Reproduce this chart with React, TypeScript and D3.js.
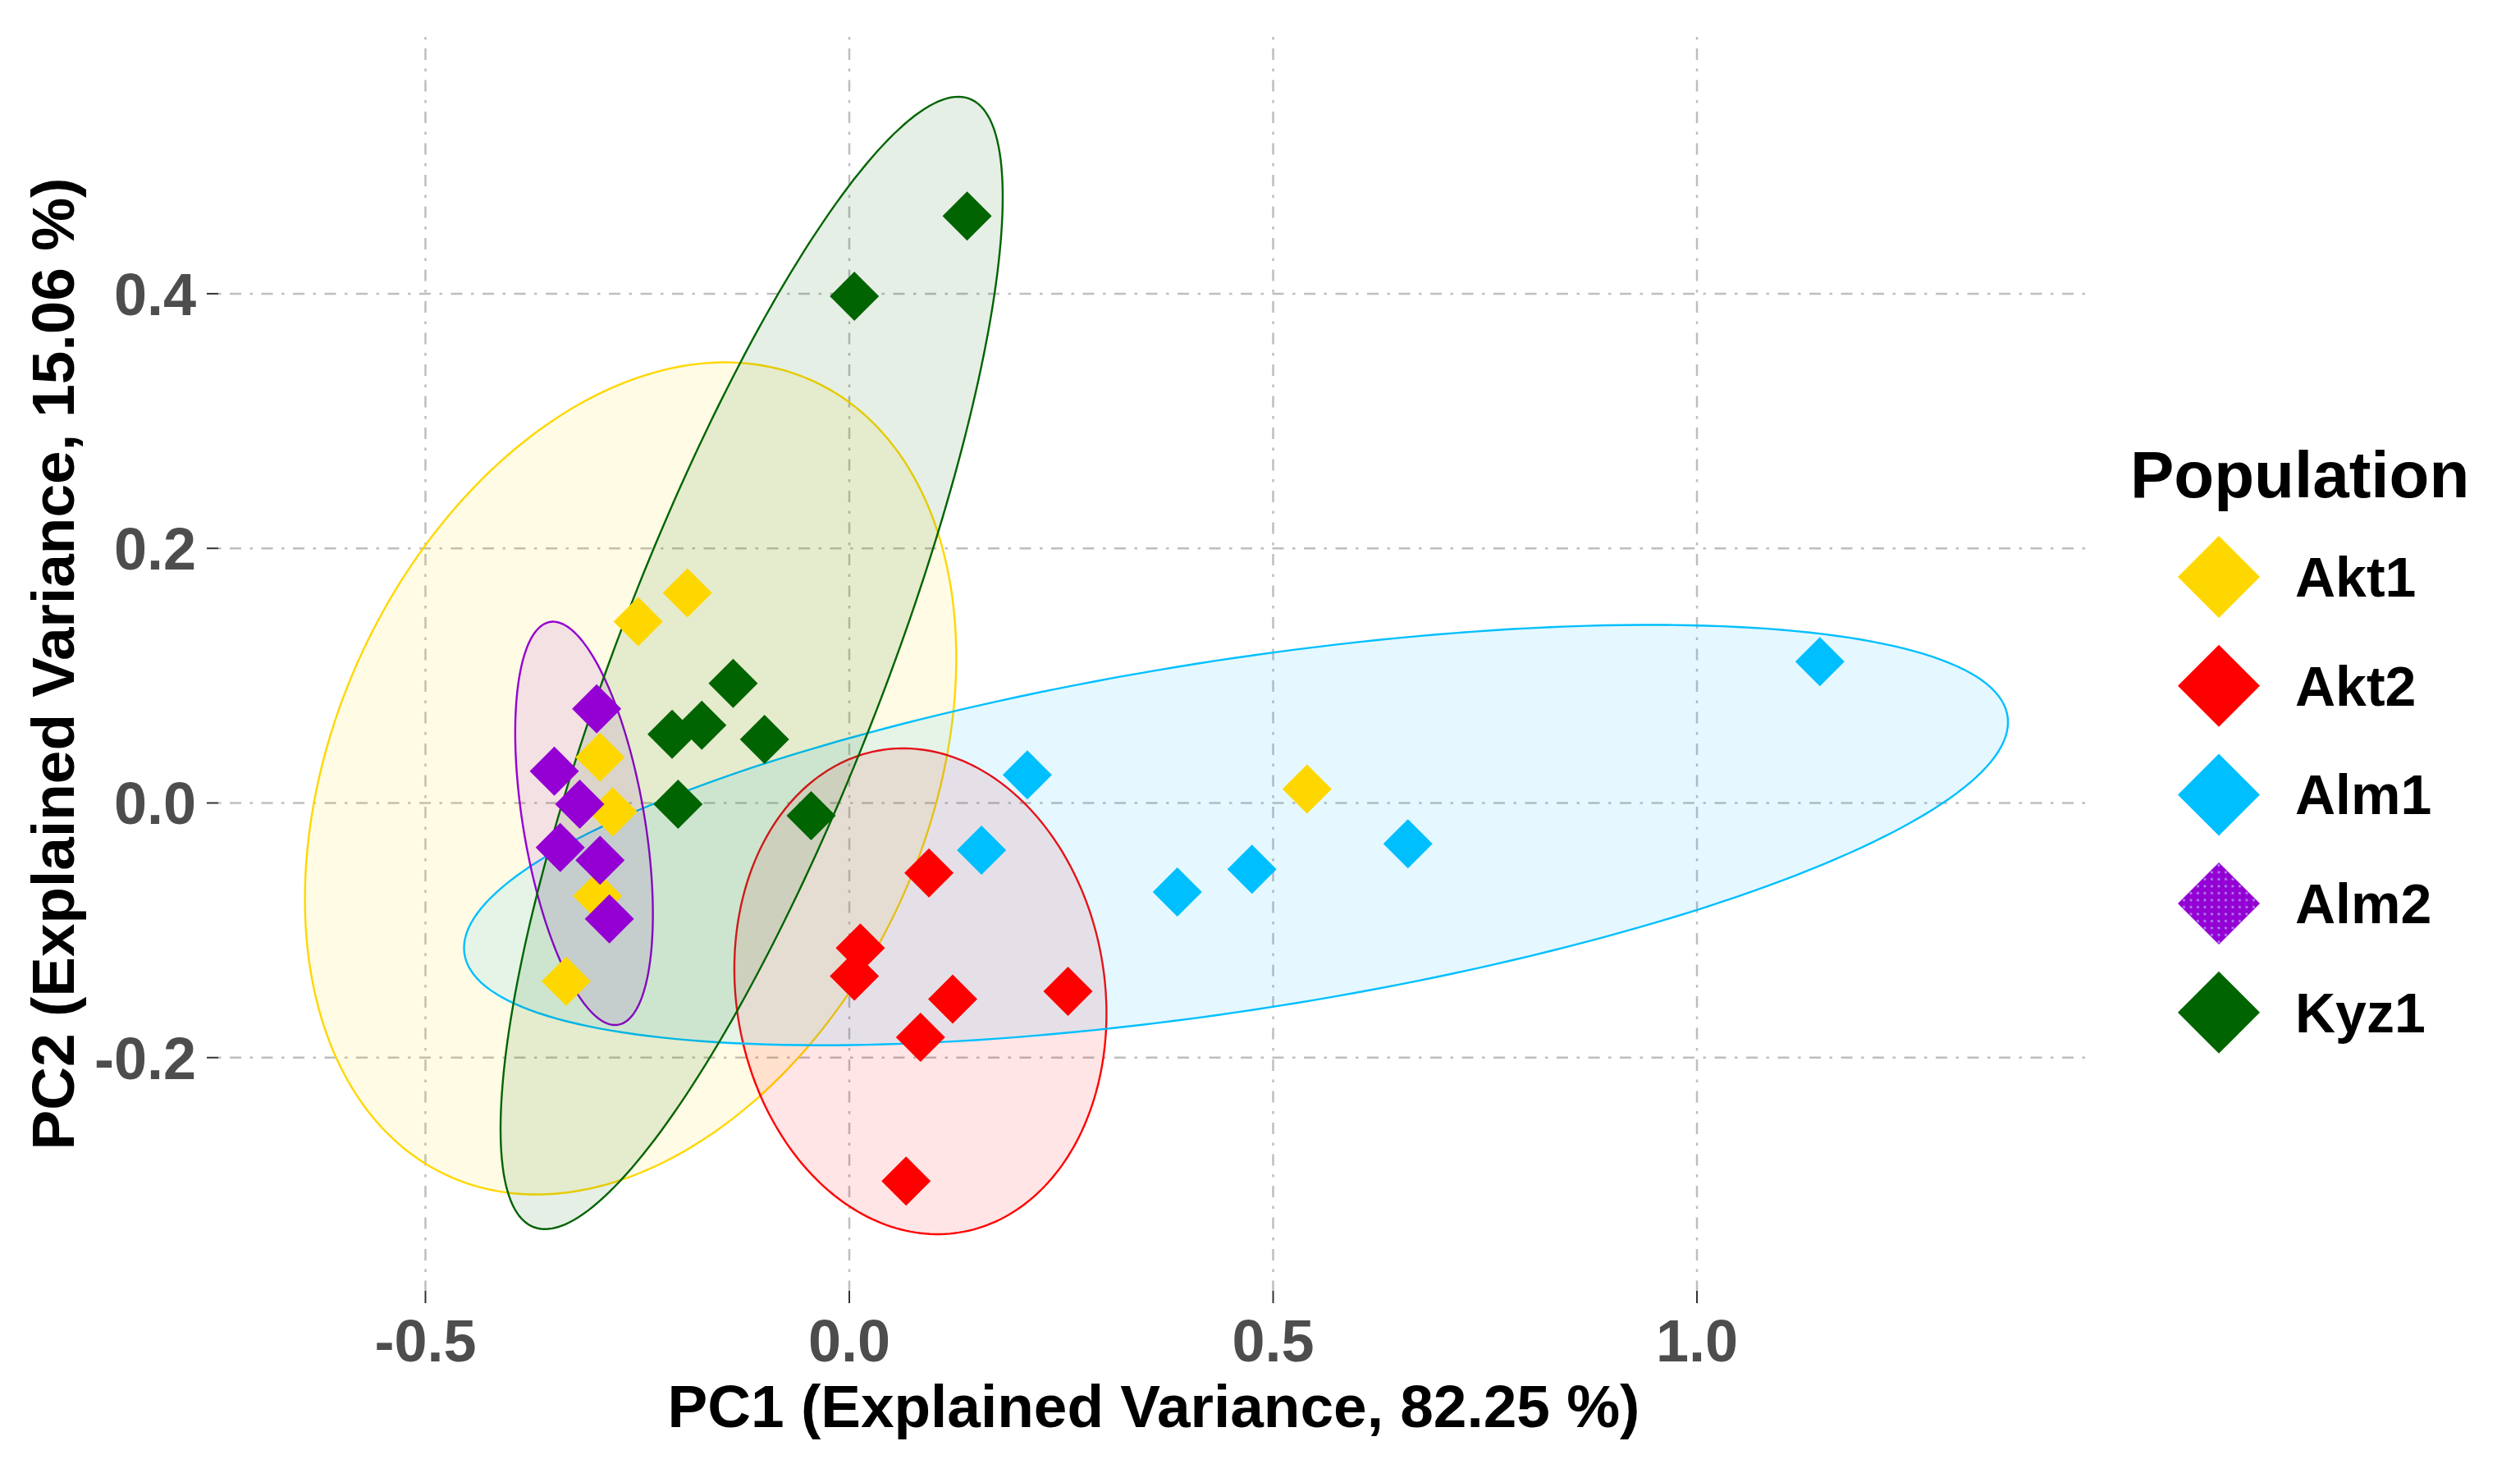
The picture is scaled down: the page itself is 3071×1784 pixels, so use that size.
import React from 'react';
import * as d3 from 'd3';

type Pt = [number, number];
type Ellipse = { cx: number; cy: number; hw: number; hh: number; r: number };

const populations = ['Akt1', 'Akt2', 'Alm1', 'Alm2', 'Kyz1'];
const popColors = ['#FFD700', '#FF0000', '#00BFFF', '#9400D3', '#006400'];

// PC1 / PC2 scores
const akt1: Pt[] = [
  [-0.191, 0.165], [-0.249, 0.1425], [-0.294, 0.036], [-0.279, -0.007],
  [-0.297, -0.073], [-0.334, -0.14], [0.54, 0.011],
];
const akt2: Pt[] = [
  [0.094, -0.055], [0.013, -0.114], [0.006, -0.136], [0.122, -0.154],
  [0.258, -0.148], [0.084, -0.184], [0.067, -0.297],
];
const alm1: Pt[] = [
  [0.21, 0.022], [0.156, -0.037], [0.387, -0.07], [0.475, -0.052],
  [0.659, -0.032], [1.145, 0.111],
];
const alm2: Pt[] = [
  [-0.298, 0.074], [-0.348, 0.025], [-0.318, -0.001], [-0.341, -0.035],
  [-0.294, -0.045], [-0.283, -0.091],
];
const kyz1: Pt[] = [
  [0.139, 0.461], [0.006, 0.398], [-0.137, 0.094], [-0.209, 0.054],
  [-0.174, 0.061], [-0.1, 0.05], [-0.202, -0.001], [-0.045, -0.01],
];
const groups = [akt1, akt2, alm1, alm2, kyz1];

// confidence ellipses: centre, half width, half height, correlation (data units)
const ellAkt1: Ellipse = { cx: -0.258, cy: 0.0193, hw: 0.3842, hh: 0.3268, r: 0.29 };
const ellAkt2: Ellipse = { cx: 0.0839, cy: -0.1479, hw: 0.2195, hh: 0.1908, r: -0.092 };
const ellAlm1: Ellipse = { cx: 0.4562, cy: -0.0252, hw: 0.9107, hh: 0.1651, r: 0.537 };
const ellAlm2: Ellipse = { cx: -0.3129, cy: -0.016, hw: 0.0812, hh: 0.1584, r: -0.45 };
const ellKyz1: Ellipse = { cx: -0.1152, cy: 0.11, hw: 0.2962, hh: 0.4447, r: 0.823 };
const ellipses = [ellAkt1, ellAkt2, ellAlm1, ellAlm2, ellKyz1];

const xTicks = [-0.5, 0, 0.5, 1.0];
const xTickLabels = ['-0.5', '0.0', '0.5', '1.0'];
const yTicks = [-0.2, 0, 0.2, 0.4];
const yTickLabels = ['-0.2', '0.0', '0.2', '0.4'];
const xDomain = [-0.7444, 1.4627];
const yDomain = [-0.3832, 0.6017];

const W = 3071;
const H = 1784;
const panel = { left: 266, right: 2546, top: 45, bottom: 1573 };
const font = '"Liberation Sans", Arial, sans-serif';

const App: React.FC = () => {
  const x = d3.scaleLinear().domain(xDomain).range([panel.left, panel.right]);
  const y = d3.scaleLinear().domain(yDomain).range([panel.bottom, panel.top]);

  const line = d3.line<Pt>().curve(d3.curveLinearClosed);
  const ellipsePath = (e: Ellipse) => {
    const n = 240;
    const s = Math.sqrt(1 - e.r * e.r);
    const pts: Pt[] = d3.range(n).map((i) => {
      const t = (i / n) * 2 * Math.PI;
      const px = e.cx + e.hw * Math.cos(t);
      const py = e.cy + e.hh * (e.r * Math.cos(t) + s * Math.sin(t));
      return [x(px), y(py)];
    });
    return line(pts) || '';
  };

  const diamond = d3.symbol().type(d3.symbolSquare).size(1800)() || '';
  const legendDiamond = d3.symbol().type(d3.symbolSquare).size(5000)() || '';
  const gridDash = '3.5 10.5 14 10.5';

  return (
    <svg width={W} height={H} style={{ position: 'absolute', left: 0, top: 0, background: '#fff' }}>
      <defs>
        <pattern id="alm2dots" width="12" height="12" patternUnits="userSpaceOnUse">
          <rect width="12" height="12" fill="#9400D3" />
          <circle cx="3" cy="3" r="1.6" fill="#B08CF0" />
          <circle cx="9" cy="9" r="1.6" fill="#B08CF0" />
        </pattern>
      </defs>
      <rect width={W} height={H} fill="#fff" />

      {/* grid */}
      <g stroke="#BEBEBE" strokeWidth={2.5} strokeDasharray={gridDash}>
        {yTicks.map((t) => (
          <line key={'gy' + t} x1={panel.left} x2={panel.right} y1={y(t)} y2={y(t)} />
        ))}
        {xTicks.map((t) => (
          <line key={'gx' + t} x1={x(t)} x2={x(t)} y1={panel.top} y2={panel.bottom} />
        ))}
      </g>

      {/* ellipses */}
      {ellipses.map((e, i) => (
        <path
          key={'e' + i}
          d={ellipsePath(e)}
          fill={popColors[i]}
          fillOpacity={0.1}
          stroke={popColors[i]}
          strokeWidth={2.4}
        />
      ))}

      {/* points */}
      {groups.map((g, i) => (
        <g key={'g' + i} fill={popColors[i]}>
          {g.map((d, j) => (
            <path key={j} d={diamond} transform={`translate(${x(d[0])},${y(d[1])}) rotate(45)`} />
          ))}
        </g>
      ))}

      {/* axes ticks */}
      <g stroke="#333" strokeWidth={2}>
        {xTicks.map((t) => (
          <line key={'tx' + t} x1={x(t)} x2={x(t)} y1={panel.bottom} y2={panel.bottom + 15} />
        ))}
        {yTicks.map((t) => (
          <line key={'ty' + t} x1={panel.left - 14} x2={panel.left} y1={y(t)} y2={y(t)} />
        ))}
      </g>
      <g fontFamily={font} fontWeight="bold" fontSize={72} fill="#4D4D4D">
        {xTicks.map((t, i) => (
          <text key={'lx' + t} x={x(t)} y={1659} textAnchor="middle">
            {xTickLabels[i]}
          </text>
        ))}
        {yTicks.map((t, i) => (
          <text key={'ly' + t} x={239} y={y(t) + 26} textAnchor="end">
            {yTickLabels[i]}
          </text>
        ))}
      </g>

      {/* axis titles */}
      <text
        x={(panel.left + panel.right) / 2}
        y={1739}
        textAnchor="middle"
        fontFamily={font}
        fontWeight="bold"
        fontSize={73}
        fill="#000"
      >
        PC1 (Explained Variance, 82.25 %)
      </text>
      <text
        transform={`translate(90,${(panel.top + panel.bottom) / 2}) rotate(-90)`}
        textAnchor="middle"
        fontFamily={font}
        fontWeight="bold"
        fontSize={73}
        fill="#000"
      >
        PC2 (Explained Variance, 15.06 %)
      </text>

      {/* legend */}
      <text x={2596} y={606} fontFamily={font} fontWeight="bold" fontSize={80} fill="#000">
        Population
      </text>
      {populations.map((p, i) => {
        const cy = 703 + i * 132.7;
        return (
          <g key={'lg' + p}>
            <path
              d={legendDiamond}
              transform={`translate(2704,${cy}) rotate(45)`}
              fill={p === 'Alm2' ? 'url(#alm2dots)' : popColors[i]}
            />
            <text x={2797} y={cy + 24} fontFamily={font} fontWeight="bold" fontSize={68} fill="#000">
              {p}
            </text>
          </g>
        );
      })}
    </svg>
  );
};

export default App;
